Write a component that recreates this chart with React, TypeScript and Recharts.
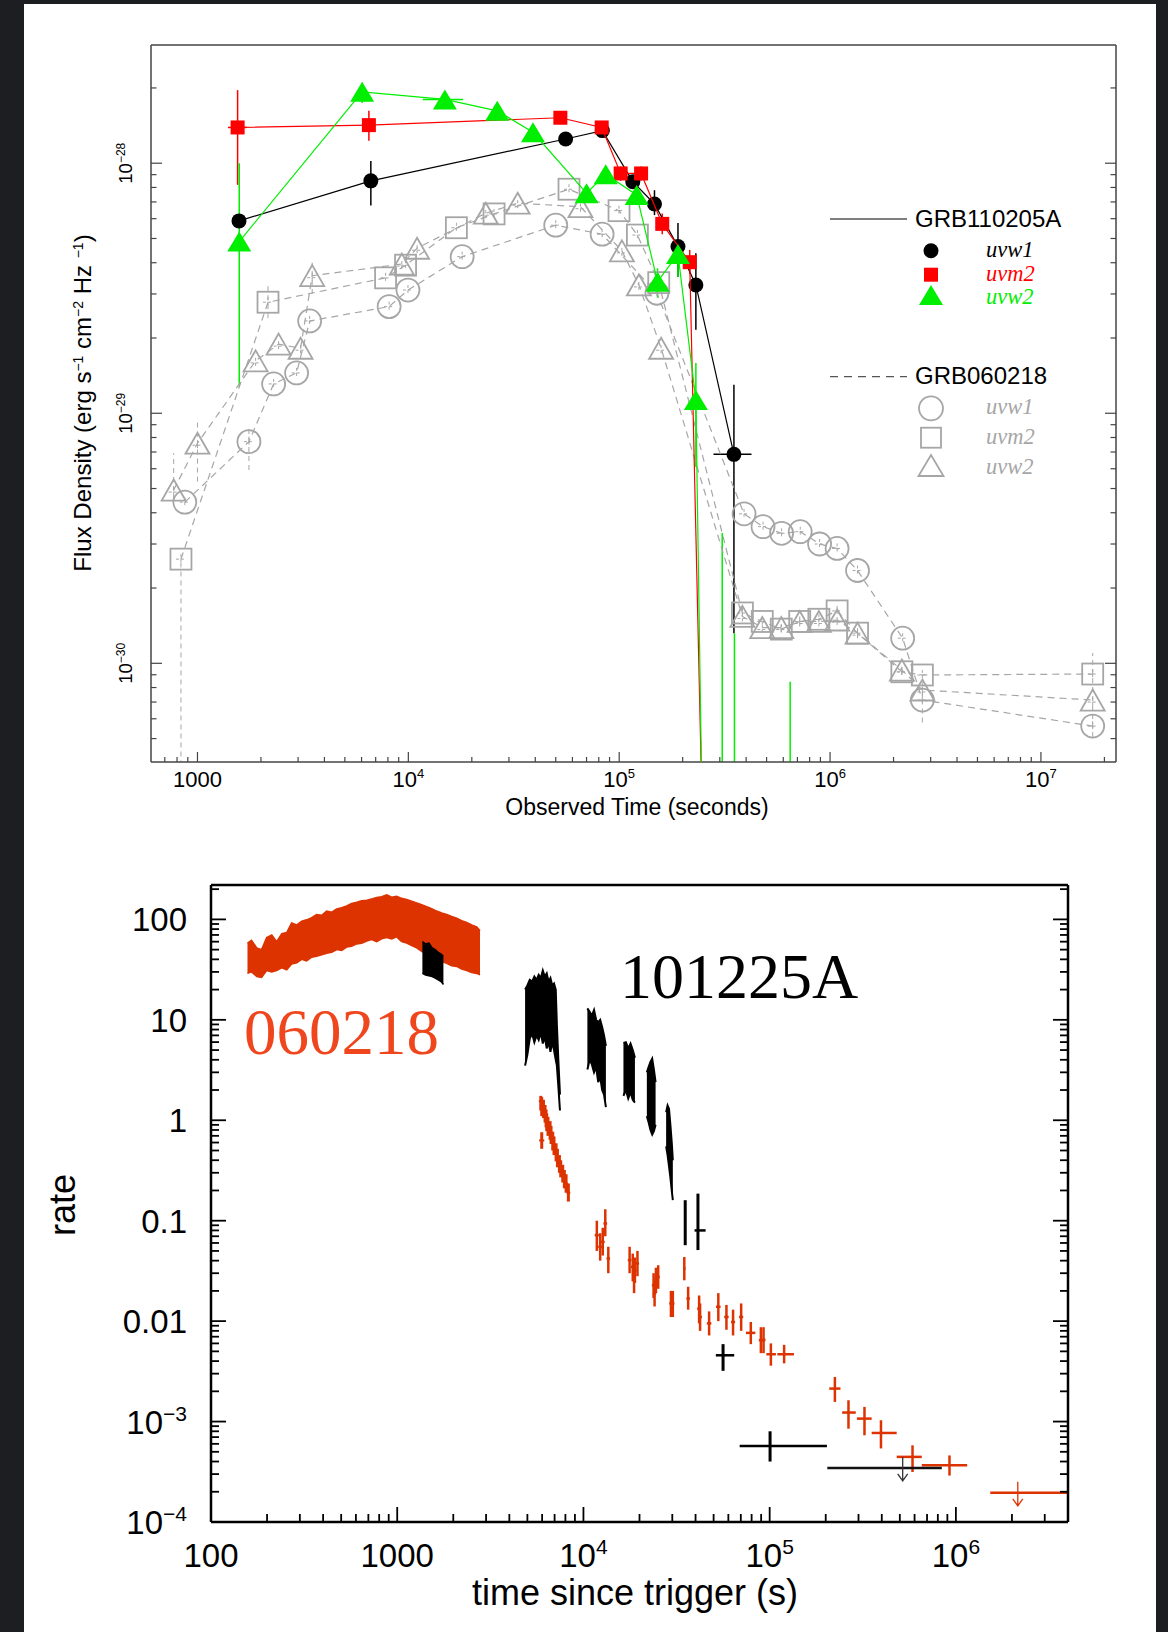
import React from "react";
import { ComposedChart, Scatter, Area, XAxis, YAxis, ReferenceLine } from "recharts";

const SANS = "'Liberation Sans', Arial, Helvetica, sans-serif";
const SERIF = "'Liberation Serif', 'Times New Roman', serif";

const FRAME = "#444444";
const GRAY = "#a6a6a6";
const UV_RED = "#ff0000";
const UV_GREEN = "#00ee00";
const XRT_RED = "#dc3300";
const NAME_RED = "#f0461e";
const ZERO = 1e-33; // error bars that run down to zero flux

// ---------- UVOT flux density (erg s^-1 cm^-2 Hz^-1) vs observed time (s) ----------

// GRB 110205A, uvw1
const a1Time = [1574, 6640, 55700, 83200, 116000, 147000, 190000, 231000, 350000];
const a1Flux = [5.88e-29, 8.5e-29, 1.25e-28, 1.35e-28, 8.44e-29, 6.87e-29, 4.64e-29, 3.26e-29, 6.85e-30];
const a1Lo = [5.6e-29, 6.77e-29, 1.19e-28, 1.3e-28, 8.0e-29, 6.2e-29, 3.51e-29, 2.16e-29, 1.32e-30];
const a1Hi = [6.2e-29, 1.02e-28, 1.32e-28, 1.41e-28, 8.9e-29, 7.8e-29, 5.77e-29, 4.36e-29, 1.3e-29];
const a1TLo = [1500, 6450, 53000, 79000, 111000, 141000, 182000, 224000, 280000];
const a1THi = [1650, 6830, 58500, 87500, 121000, 153000, 198000, 238000, 424000];

// GRB 110205A, uvm2 (last point drops out of the plotted range)
const a2Time = [1550, 6500, 52600, 82600, 101600, 127000, 160000, 216000, 270000];
const a2Flux = [1.39e-28, 1.42e-28, 1.52e-28, 1.39e-28, 9.1e-29, 9.1e-29, 5.72e-29, 4.02e-29, 1e-32];
const a2Lo = [8.19e-29, 1.23e-28, 1.44e-28, 1.33e-28, 8.5e-29, 8.5e-29, 5.2e-29, 3.6e-29, 1e-32];
const a2Hi = [1.96e-28, 1.62e-28, 1.6e-28, 1.45e-28, 9.7e-29, 9.7e-29, 6.3e-29, 4.5e-29, 1e-32];
const a2TLo = [1395, 6200, 50500, 79000, 96500, 121000, 153000, 207000, 270000];
const a2THi = [1711, 6800, 55000, 86000, 107000, 133000, 168000, 226000, 270000];

// GRB 110205A, uvw2
const a3Time = [1578, 6040, 14900, 26400, 39000, 70000, 86300, 121000, 152000, 190000, 231000, 262000];
const a3Flux = [4.86e-29, 1.93e-28, 1.8e-28, 1.62e-28, 1.33e-28, 7.59e-29, 9.03e-29, 7.47e-29, 3.36e-29, 4.33e-29, 1.13e-29, 1e-32];
const a3Lo = [1.27e-29, 1.74e-28, 1.72e-28, 1.55e-28, 1.27e-28, 7.2e-29, 8.6e-29, 7.1e-29, 2.9e-29, 3.51e-29, 6.1e-30, 1e-32];
const a3Hi = [1.0e-28, 2.1e-28, 1.88e-28, 1.7e-28, 1.4e-28, 8.0e-29, 9.5e-29, 7.9e-29, 3.8e-29, 4.93e-29, 1.59e-29, 1e-32];
const a3TLo = [1540, 5800, 11700, 25000, 37000, 67000, 83000, 116000, 146000, 184000, 226000, 262000];
const a3THi = [1620, 6300, 18200, 28000, 41000, 73000, 90000, 126000, 158000, 196000, 236000, 262000];
// faint uvw2 exposures: only the upper half of the error bar is inside the frame
const a3FaintTime = [308000, 352000, 647000];
const a3FaintHi = [3.32e-30, 1.32e-30, 8.44e-31];

// GRB 060218
const b1Time = [871, 1754, 2297, 2952, 3405, 8110, 9960, 18000, 50000, 83000, 151000, 391000, 481000, 589000, 722000, 892000, 1080000, 1350000, 2210000, 2740000, 17600000];
const b1Flux = [4.41e-30, 7.7e-30, 1.31e-29, 1.45e-29, 2.34e-29, 2.67e-29, 3.11e-29, 4.23e-29, 5.65e-29, 5.2e-29, 3.02e-29, 3.96e-30, 3.52e-30, 3.31e-30, 3.36e-30, 3.0e-30, 2.88e-30, 2.35e-30, 1.26e-30, 7.13e-31, 5.61e-31];
const b2Time = [835, 2160, 7800, 9700, 16900, 25500, 57800, 99800, 122000, 154000, 384000, 477000, 587000, 718000, 885000, 1080000, 1350000, 2190000, 2740000, 17600000];
const b2Flux = [2.61e-30, 2.78e-29, 3.48e-29, 3.91e-29, 5.52e-29, 6.27e-29, 7.87e-29, 6.46e-29, 5.16e-29, 3.33e-29, 1.59e-30, 1.47e-30, 1.37e-30, 1.47e-30, 1.5e-30, 1.62e-30, 1.32e-30, 9.25e-31, 8.98e-31, 9.06e-31];
const b3Time = [771, 1000, 1887, 2425, 3083, 3500, 9310, 11000, 23300, 33000, 65500, 103000, 124000, 158000, 384000, 477000, 587000, 718000, 885000, 1080000, 1350000, 2190000, 2740000, 17600000];
const b3Flux = [4.93e-30, 7.59e-30, 1.62e-29, 1.89e-29, 1.82e-29, 3.55e-29, 3.95e-29, 4.57e-29, 6.31e-29, 6.92e-29, 6.7e-29, 4.46e-29, 3.26e-29, 1.82e-29, 1.54e-30, 1.39e-30, 1.39e-30, 1.47e-30, 1.47e-30, 1.49e-30, 1.32e-30, 9.4e-31, 7.82e-31, 7.13e-31];
// the longer GRB 060218 error bars
const bErrTime = [771, 1000, 1754, 835, 2160, 3500, 2740000, 17600000];
const bErrLo = [4.5e-30, 5.33e-30, 5.93e-30, ZERO, 2.4e-29, 3.0e-29, 5.8e-31, 5.07e-31];
const bErrHi = [6.92e-30, 9.4e-30, 8.98e-30, 2.61e-30, 3.26e-29, 4.0e-29, 8.4e-31, 1.1e-30];

// ---------- XRT count rate vs time since trigger ----------

// 060218: the long bright WT stretch
const xBandTime = [157, 165, 176, 187, 199, 212, 225, 240, 255, 271, 289, 307, 326, 347, 369, 393, 418, 445, 473, 503, 535, 569, 606, 644, 686, 729, 776, 825, 878, 934, 993, 1056, 1124, 1196, 1272, 1353, 1440, 1531, 1629, 1733, 1843, 1961, 2086, 2219, 2361, 2511, 2671, 2784];
const xBandHi = [58, 62, 52, 50, 66, 70, 60, 72, 74, 92, 88, 96, 99, 104, 112, 110, 121, 118, 127, 131, 136, 144, 148, 153, 155, 160, 165, 168, 176, 166, 170, 162, 158, 152, 146, 140, 134, 128, 121, 116, 112, 107, 103, 97, 93, 88, 84, 77];
const xBandLo = [29, 30, 27, 26.5, 31, 30, 31, 33, 31.5, 36, 37, 40, 38.5, 42, 43, 44.5, 46, 47, 50, 49, 53, 54, 57, 58, 61, 63, 60, 64, 66, 64, 67, 60, 58, 55, 52, 48, 45, 42, 40, 38, 36.5, 34.5, 34, 32, 31, 29.5, 29, 28];

// 060218: steep decay in the second orbit
const xFastTime = [5900, 5970, 5970, 6100, 6220, 6300, 6350, 6450, 6620, 6700, 6840, 6950, 7130, 7250, 7430, 7550, 7740, 7900, 8070, 8300];
const xFastRate = [1.55, 1.4, 0.63, 1.3, 1.17, 1.05, 0.96, 0.88, 0.8, 0.72, 0.63, 0.56, 0.48, 0.42, 0.37, 0.33, 0.295, 0.26, 0.235, 0.19];
const xFastLo = [1.25, 1.1, 0.52, 1.05, 0.95, 0.85, 0.78, 0.7, 0.64, 0.58, 0.5, 0.45, 0.39, 0.34, 0.3, 0.27, 0.24, 0.21, 0.19, 0.155];
const xFastHi = [1.75, 1.7, 0.76, 1.6, 1.42, 1.28, 1.17, 1.08, 0.98, 0.88, 0.77, 0.69, 0.59, 0.52, 0.45, 0.4, 0.36, 0.32, 0.29, 0.235];
const xFastTLo = [5760, 5830, 5780, 5960, 6080, 6150, 6200, 6300, 6470, 6540, 6680, 6790, 6960, 7080, 7260, 7370, 7560, 7720, 7880, 8110];
const xFastTHi = [6040, 6110, 6160, 6240, 6370, 6450, 6500, 6600, 6780, 6860, 7000, 7120, 7300, 7420, 7610, 7730, 7930, 8090, 8260, 8500];

// 060218: late PC-mode points
const xSlowTime = [11800, 12300, 12700, 13100, 13600, 17700, 18400, 18900, 19500, 18700, 23800, 24500, 25200, 24100, 29500, 30200, 34800, 36500, 41800, 42300, 47300, 53000, 58600, 63600, 70300, 79200, 89700, 92700, 101500, 119600, 224000, 265000, 323000, 396000, 585000, 924000];
const xSlowRate = [0.0718, 0.0548, 0.0615, 0.0938, 0.042, 0.0405, 0.0347, 0.0321, 0.0375, 0.0255, 0.0228, 0.0255, 0.0275, 0.0188, 0.015, 0.015, 0.0334, 0.0168, 0.0133, 0.011, 0.0095, 0.0139, 0.011, 0.0098, 0.011, 0.00764, 0.00646, 0.0065, 0.00468, 0.00468, 0.00213, 0.00123, 0.00107, 7.7e-4, 4.45e-4, 3.67e-4];
const xSlowLo = [0.05, 0.04, 0.045, 0.07, 0.03, 0.03, 0.025, 0.024, 0.028, 0.019, 0.017, 0.019, 0.021, 0.014, 0.011, 0.011, 0.0255, 0.013, 0.0095, 0.008, 0.0072, 0.01, 0.0082, 0.0072, 0.008, 0.0059, 0.0048, 0.0048, 0.0036, 0.0038, 0.00157, 8.5e-4, 7.3e-4, 5.4e-4, 3.15e-4, 2.9e-4];
const xSlowHi = [0.1, 0.075, 0.085, 0.13, 0.055, 0.055, 0.047, 0.043, 0.05, 0.034, 0.03, 0.034, 0.036, 0.025, 0.02, 0.02, 0.0435, 0.022, 0.018, 0.015, 0.0125, 0.019, 0.0145, 0.013, 0.015, 0.0098, 0.0087, 0.0087, 0.006, 0.0058, 0.00278, 0.00163, 0.0014, 0.00103, 5.8e-4, 4.6e-4];
const xSlowTLo = [11500, 12000, 12400, 12800, 13300, 17300, 18000, 18500, 19100, 18300, 23300, 24000, 24700, 23600, 28900, 29600, 34300, 35700, 40800, 41300, 46000, 51500, 57000, 62000, 68500, 74600, 87500, 90500, 96000, 110000, 209000, 245000, 294000, 353000, 481000, 656000];
const xSlowTHi = [12100, 12600, 13000, 13400, 13900, 18100, 18800, 19300, 19900, 19100, 24300, 25000, 25700, 24600, 30100, 30800, 35300, 37300, 42800, 43300, 48600, 54500, 60200, 65200, 72100, 83800, 92000, 95000, 108000, 135000, 240000, 290000, 353000, 481000, 656000, 1150000];

// 101225A: WT / PC snapshots
const yEarlyTime = [1365, 1420, 1480, 1540, 1600, 1660, 1720, 1770];
const yEarlyHi = [60, 57, 58, 52, 50, 47, 45, 43];
const yEarlyLo = [29, 28, 27.5, 27, 26, 25, 24, 22.5];
const yOrb1Time = [4860, 5000, 5150, 5300, 5450, 5600, 5750, 5900, 6050, 6200, 6350, 6500, 6650, 6800, 6950, 7100, 7200, 7330, 7480];
const yOrb1Hi = [20, 22, 25, 24, 27, 25, 28, 26, 31, 27, 29, 24, 26, 22, 23, 20, 9, 4, 1.8];
const yOrb1Lo = [3.5, 4.5, 6.5, 7.3, 6.0, 7.0, 6.3, 7.5, 5.8, 6.8, 5.2, 6.0, 4.8, 6.0, 5.0, 4.0, 3.5, 2.2, 1.25];
const yOrb2Time = [10500, 10800, 11100, 11400, 11700, 12000, 12300, 12600, 12900, 13200];
const yOrb2Hi = [13, 12, 11, 12.5, 10, 9.5, 10, 8.5, 7, 5.5];
const yOrb2Lo = [3.2, 4.0, 3.6, 3.0, 3.4, 2.4, 2.7, 2.0, 1.8, 1.35];
const yOrb3Time = [16400, 16900, 17400, 17900, 18400, 18900];
const yOrb3Hi = [5.9, 6.0, 5.2, 5.8, 5.0, 4.2];
const yOrb3Lo = [1.75, 2.0, 1.65, 1.9, 1.6, 1.5];
const yOrb4Time = [21900, 22400, 22900, 23400, 23900, 24400];
const yOrb4Hi = [3.0, 3.4, 3.8, 4.1, 3.2, 2.4];
const yOrb4Lo = [1.1, 0.95, 0.8, 0.72, 0.78, 0.9];
const yOrb5Time = [27800, 28300, 28800, 29300, 29800, 30200];
const yOrb5Hi = [1.2, 1.4, 1.3, 0.9, 0.6, 0.4];
const yOrb5Lo = [0.55, 0.45, 0.35, 0.27, 0.2, 0.16];
const yPtTime = [35200, 41200, 56200, 100500];
const yPtRate = [0.095, 0.08, 0.00457, 5.7e-4];
const yPtLo = [0.057, 0.051, 0.0032, 4.0e-4];
const yPtHi = [0.16, 0.186, 0.0059, 8.0e-4];
const yPtTLo = [35200, 39500, 51400, 69000];
const yPtTHi = [35200, 45300, 64500, 203000];

// upper limits: 101225A, then 060218
const ulTime = [518000, 2150000];
const ulRate = [3.45e-4, 1.95e-4];
const ulTLo = [204000, 1530000];
const ulTHi = [840000, 4000000];

// ---------- axes ----------
const TOP_X: [number, number] = [602, 2.27e7];
const TOP_Y: [number, number] = [4.03e-31, 2.97e-28];
const BOT_X: [number, number] = [100, 4e6];
const BOT_Y: [number, number] = [1e-4, 220];

const logTicks = (lo: number, hi: number) => {
  const out: number[] = [];
  for (let e = Math.floor(Math.log10(lo)); e <= Math.ceil(Math.log10(hi)); e++) {
    for (let m = 1; m <= 9; m++) {
      const v = m * Math.pow(10, e);
      if (v >= lo * 0.9999 && v <= hi * 1.0001) out.push(v);
    }
  }
  return out;
};
const isDecade = (v: number) => Math.abs(Math.log10(v) - Math.round(Math.log10(v))) < 1e-6;
const expOf = (v: number) => Math.round(Math.log10(v));

const topXTicks = logTicks(TOP_X[0], TOP_X[1]);
const topYTicks = logTicks(TOP_Y[0], TOP_Y[1]);
const botXTicks = logTicks(BOT_X[0], BOT_X[1]);
const botYTicks = logTicks(BOT_Y[0], BOT_Y[1]);

const pts = (t: number[], v: number[]) => t.map((x, i) => ({ t: x, v: v[i] }));
const band = (t: number[], lo: number[], hi: number[]) => t.map((x, i) => ({ t: x, range: [lo[i], hi[i]] }));

const vBars = (id: string, t: number[], lo: number[], hi: number[], stroke: string, w: number, dash?: string) =>
  t.map((x, i) =>
    lo[i] === hi[i] ? null : (
      <ReferenceLine key={`${id}v${i}`} segment={[{ x, y: lo[i] }, { x, y: hi[i] }]} stroke={stroke} strokeWidth={w} strokeDasharray={dash} ifOverflow="hidden" />
    )
  );
const hBars = (id: string, v: number[], lo: number[], hi: number[], stroke: string, w: number) =>
  v.map((y, i) =>
    lo[i] === hi[i] ? null : (
      <ReferenceLine key={`${id}h${i}`} segment={[{ x: lo[i], y }, { x: hi[i], y }]} stroke={stroke} strokeWidth={w} ifOverflow="hidden" />
    )
  );

// ---------- markers ----------
const triPath = (cx: number, cy: number, w: number, h: number) =>
  `M${cx},${cy - h / 2}L${cx + w / 2},${cy + h / 2}L${cx - w / 2},${cy + h / 2}Z`;
const crossPath = (cx: number, cy: number, s: number) => `M${cx - s},${cy}h${2 * s}M${cx},${cy - s}v${2 * s}`;

const blackDot = (p: any) => <circle cx={p.cx} cy={p.cy} r={7.5} fill="#000" />;
const redSquare = (p: any) => <rect x={p.cx - 7} y={p.cy - 7} width={14} height={14} fill={UV_RED} />;
const greenTri = (p: any) => <path d={triPath(p.cx, p.cy, 24, 20)} fill={UV_GREEN} />;
const openCircle = (p: any) => (
  <g>
    <circle cx={p.cx} cy={p.cy} r={11.5} fill="none" stroke={GRAY} strokeWidth={1.8} />
    <path d={crossPath(p.cx, p.cy, 5)} stroke={GRAY} strokeWidth={1} strokeDasharray="3 2" />
  </g>
);
const openSquare = (p: any) => (
  <g>
    <rect x={p.cx - 10.5} y={p.cy - 10.5} width={21} height={21} fill="none" stroke={GRAY} strokeWidth={1.8} />
    <path d={crossPath(p.cx, p.cy, 5)} stroke={GRAY} strokeWidth={1} strokeDasharray="3 2" />
  </g>
);
const openTri = (p: any) => (
  <g>
    <path d={triPath(p.cx, p.cy, 24, 21)} fill="none" stroke={GRAY} strokeWidth={1.8} />
    <path d={crossPath(p.cx, p.cy + 2, 5)} stroke={GRAY} strokeWidth={1} strokeDasharray="3 2" />
  </g>
);
const limitArrow = (color: string, w: number) => (p: any) => (
  <path
    d={`M${p.cx},${p.cy - 11}V${p.cy + 13}M${p.cx - 5},${p.cy + 6}L${p.cx},${p.cy + 13}L${p.cx + 5},${p.cy + 6}`}
    stroke={color}
    strokeWidth={w}
    fill="none"
  />
);

// ---------- tick renderers (ticks point into the frame) ----------
const topBottomTick = (p: any) => {
  const { x, y, payload } = p;
  const v = payload.value as number;
  const major = isDecade(v);
  const e = expOf(v);
  return (
    <g>
      <line x1={x} x2={x} y1={y} y2={y - (major ? 10 : 5)} stroke={FRAME} strokeWidth={1.2} />
      {major && (
        <text x={x} y={y + 25} textAnchor="middle" fontFamily={SANS} fontSize={22} fill="#000">
          {e === 3 ? "1000" : (
            <>
              10<tspan dy={-9} fontSize={13}>{e}</tspan>
            </>
          )}
        </text>
      )}
    </g>
  );
};
const topTopTick = (p: any) => {
  const major = isDecade(p.payload.value);
  return <line x1={p.x} x2={p.x} y1={p.y} y2={p.y + (major ? 10 : 5)} stroke={FRAME} strokeWidth={1.2} />;
};
const topLeftTick = (p: any) => {
  const { x, y, payload } = p;
  const v = payload.value as number;
  const major = isDecade(v);
  return (
    <g>
      <line x1={x} x2={x + (major ? 11 : 5.5)} y1={y} y2={y} stroke={FRAME} strokeWidth={1.2} />
      {major && (
        <text transform={`translate(${x - 19},${y}) rotate(-90)`} textAnchor="middle" fontFamily={SANS} fontSize={18.5} fill="#000">
          10<tspan dy={-7} fontSize={12}>{"\u2212" + -expOf(v)}</tspan>
        </text>
      )}
    </g>
  );
};
const topRightTick = (p: any) => {
  const major = isDecade(p.payload.value);
  return <line x1={p.x} x2={p.x - (major ? 11 : 5.5)} y1={p.y} y2={p.y} stroke={FRAME} strokeWidth={1.2} />;
};

const botBottomTick = (p: any) => {
  const { x, y, payload } = p;
  const v = payload.value as number;
  const major = isDecade(v);
  const e = expOf(v);
  return (
    <g>
      <line x1={x} x2={x} y1={y} y2={y - (major ? 15 : 8)} stroke="#000" strokeWidth={1.8} />
      {major && (
        <text x={x} y={y + 45} textAnchor="middle" fontFamily={SANS} fontSize={33} fill="#000">
          {e <= 3 ? String(Math.round(v)) : (
            <>
              10<tspan dy={-13} fontSize={21}>{e}</tspan>
            </>
          )}
        </text>
      )}
    </g>
  );
};
const botTopTick = (p: any) => {
  const major = isDecade(p.payload.value);
  return <line x1={p.x} x2={p.x} y1={p.y} y2={p.y + (major ? 15 : 8)} stroke="#000" strokeWidth={1.8} />;
};
const rateText = (v: number) => {
  const e = expOf(v);
  if (e >= 0) return String(Math.round(v));
  if (e >= -2) return e === -1 ? "0.1" : "0.01";
  return null;
};
const botLeftTick = (p: any) => {
  const { x, y, payload } = p;
  const v = payload.value as number;
  const major = isDecade(v);
  const plain = rateText(v);
  return (
    <g>
      <line x1={x} x2={x + (major ? 15 : 8)} y1={y} y2={y} stroke="#000" strokeWidth={1.8} />
      {major && (
        <text x={x - 24} y={y + 12} textAnchor="end" fontFamily={SANS} fontSize={33} fill="#000">
          {plain ?? (
            <>
              10<tspan dy={-13} fontSize={21}>{"\u2212" + -expOf(v)}</tspan>
            </>
          )}
        </text>
      )}
    </g>
  );
};
const botRightTick = (p: any) => {
  const major = isDecade(p.payload.value);
  return <line x1={p.x} x2={p.x - (major ? 15 : 8)} y1={p.y} y2={p.y} stroke="#000" strokeWidth={1.8} />;
};

const logAxis = { type: "number" as const, scale: "log" as const, allowDataOverflow: true, interval: 0, tickSize: 0, tickMargin: 0, tickLine: false };

const UvotPanel = () => (
  <ComposedChart width={1168} height={850} margin={{ top: 45, right: 52, bottom: 48, left: 91 }}>
    <XAxis {...logAxis} dataKey="t" domain={TOP_X} ticks={topXTicks} height={40} axisLine={{ stroke: FRAME, strokeWidth: 1.5 }} tick={topBottomTick} />
    <XAxis {...logAxis} xAxisId="top" orientation="top" mirror domain={TOP_X} ticks={topXTicks} height={1} axisLine={{ stroke: FRAME, strokeWidth: 1.5 }} tick={topTopTick} />
    <YAxis {...logAxis} dataKey="v" domain={TOP_Y} ticks={topYTicks} width={60} axisLine={{ stroke: FRAME, strokeWidth: 1.5 }} tick={topLeftTick} />
    <YAxis {...logAxis} yAxisId="right" orientation="right" mirror domain={TOP_Y} ticks={topYTicks} width={1} axisLine={{ stroke: FRAME, strokeWidth: 1.5 }} tick={topRightTick} />

    {vBars("be", bErrTime, bErrLo, bErrHi, GRAY, 1, "5 4")}
    <Scatter data={pts(b1Time, b1Flux)} dataKey="v" shape={openCircle} line={{ stroke: GRAY, strokeWidth: 1.2, strokeDasharray: "7 5" }} lineJointType="linear" isAnimationActive={false} />
    <Scatter data={pts(b2Time, b2Flux)} dataKey="v" shape={openSquare} line={{ stroke: GRAY, strokeWidth: 1.2, strokeDasharray: "7 5" }} lineJointType="linear" isAnimationActive={false} />
    <Scatter data={pts(b3Time, b3Flux)} dataKey="v" shape={openTri} line={{ stroke: GRAY, strokeWidth: 1.2, strokeDasharray: "7 5" }} lineJointType="linear" isAnimationActive={false} />

    {vBars("a1", a1Time, a1Lo, a1Hi, "#000", 1.5)}
    {hBars("a1", a1Flux, a1TLo, a1THi, "#000", 1.5)}
    {vBars("a2", a2Time, a2Lo, a2Hi, UV_RED, 1.5)}
    {hBars("a2", a2Flux, a2TLo, a2THi, UV_RED, 1.5)}
    {vBars("a3", a3Time, a3Lo, a3Hi, UV_GREEN, 1.5)}
    {hBars("a3", a3Flux, a3TLo, a3THi, UV_GREEN, 1.5)}
    {vBars("a3f", a3FaintTime, a3FaintTime.map(() => ZERO), a3FaintHi, UV_GREEN, 1.5)}

    <Scatter data={pts(a1Time, a1Flux)} dataKey="v" shape={blackDot} line={{ stroke: "#000", strokeWidth: 1.2 }} lineJointType="linear" isAnimationActive={false} />
    <Scatter data={pts(a2Time, a2Flux)} dataKey="v" shape={redSquare} line={{ stroke: UV_RED, strokeWidth: 1.2 }} lineJointType="linear" isAnimationActive={false} />
    <Scatter data={pts(a3Time, a3Flux)} dataKey="v" shape={greenTri} line={{ stroke: UV_GREEN, strokeWidth: 1.2 }} lineJointType="linear" isAnimationActive={false} />
  </ComposedChart>
);

const XrtPanel = () => (
  <ComposedChart width={1168} height={782} margin={{ top: 35, right: 100, bottom: 50, left: 111 }}>
    <XAxis {...logAxis} dataKey="t" domain={BOT_X} ticks={botXTicks} height={60} axisLine={{ stroke: "#000", strokeWidth: 2.5 }} tick={botBottomTick} />
    <XAxis {...logAxis} xAxisId="top" orientation="top" mirror domain={BOT_X} ticks={botXTicks} height={1} axisLine={{ stroke: "#000", strokeWidth: 2.5 }} tick={botTopTick} />
    <YAxis {...logAxis} dataKey="v" domain={BOT_Y} ticks={botYTicks} width={100} axisLine={{ stroke: "#000", strokeWidth: 2.5 }} tick={botLeftTick} />
    <YAxis {...logAxis} yAxisId="right" orientation="right" mirror domain={BOT_Y} ticks={botYTicks} width={1} axisLine={{ stroke: "#000", strokeWidth: 2.5 }} tick={botRightTick} />

    <Area data={band(xBandTime, xBandLo, xBandHi)} dataKey="range" type="linear" stroke={XRT_RED} strokeWidth={1.5} fill={XRT_RED} fillOpacity={1} dot={false} activeDot={false} isAnimationActive={false} />
    {vBars("xf", xFastTime, xFastLo, xFastHi, XRT_RED, 3)}
    {hBars("xf", xFastRate, xFastTLo, xFastTHi, XRT_RED, 2)}
    {vBars("xs", xSlowTime, xSlowLo, xSlowHi, XRT_RED, 2.5)}
    {hBars("xs", xSlowRate, xSlowTLo, xSlowTHi, XRT_RED, 2.5)}

    <Area data={band(yEarlyTime, yEarlyLo, yEarlyHi)} dataKey="range" type="linear" stroke="#000" strokeWidth={1.5} fill="#000" fillOpacity={1} dot={false} activeDot={false} isAnimationActive={false} />
    <Area data={band(yOrb1Time, yOrb1Lo, yOrb1Hi)} dataKey="range" type="linear" stroke="#000" strokeWidth={2} fill="#000" fillOpacity={1} dot={false} activeDot={false} isAnimationActive={false} />
    <Area data={band(yOrb2Time, yOrb2Lo, yOrb2Hi)} dataKey="range" type="linear" stroke="#000" strokeWidth={2} fill="#000" fillOpacity={1} dot={false} activeDot={false} isAnimationActive={false} />
    <Area data={band(yOrb3Time, yOrb3Lo, yOrb3Hi)} dataKey="range" type="linear" stroke="#000" strokeWidth={2} fill="#000" fillOpacity={1} dot={false} activeDot={false} isAnimationActive={false} />
    <Area data={band(yOrb4Time, yOrb4Lo, yOrb4Hi)} dataKey="range" type="linear" stroke="#000" strokeWidth={2} fill="#000" fillOpacity={1} dot={false} activeDot={false} isAnimationActive={false} />
    <Area data={band(yOrb5Time, yOrb5Lo, yOrb5Hi)} dataKey="range" type="linear" stroke="#000" strokeWidth={2} fill="#000" fillOpacity={1} dot={false} activeDot={false} isAnimationActive={false} />
    {vBars("yp", yPtTime, yPtLo, yPtHi, "#000", 3)}
    {hBars("yp", yPtRate, yPtTLo, yPtTHi, "#000", 2.5)}

    {hBars("ul0", [ulRate[0]], [ulTLo[0]], [ulTHi[0]], "#111", 2.5)}
    {hBars("ul1", [ulRate[1]], [ulTLo[1]], [ulTHi[1]], XRT_RED, 2.5)}
    <Scatter data={pts([ulTime[0]], [ulRate[0]])} dataKey="v" shape={limitArrow("#333", 1.3)} isAnimationActive={false} />
    <Scatter data={pts([ulTime[1]], [ulRate[1]])} dataKey="v" shape={limitArrow(XRT_RED, 1.3)} isAnimationActive={false} />
  </ComposedChart>
);

const legendItalic = { fontFamily: SERIF, fontStyle: "italic" as const, fontSize: 22.5 };

const Annotations = () => (
  <svg width={1168} height={1632} style={{ position: "absolute", left: 0, top: 0, pointerEvents: "none" }}>
    {/* upper panel titles */}
    <text transform="translate(91,403) rotate(-90)" textAnchor="middle" fontFamily={SANS} fontSize={24} fill="#000">
      Flux Density (erg s<tspan dy={-8} fontSize={14}>{"\u22121"}</tspan>
      <tspan dy={8}> cm</tspan>
      <tspan dy={-8} fontSize={14}>{"\u22122"}</tspan>
      <tspan dy={8}>{"  Hz "}</tspan>
      <tspan dy={-8} fontSize={14}>{"\u22121"}</tspan>
      <tspan dy={8}>)</tspan>
    </text>
    <text x={637} y={815} textAnchor="middle" fontFamily={SANS} fontSize={23} fill="#000">
      Observed Time (seconds)
    </text>

    {/* upper panel legend */}
    <line x1={830} x2={907} y1={219} y2={219} stroke="#000" strokeWidth={1.2} />
    <text x={915} y={227} fontFamily={SANS} fontSize={24} fill="#000">GRB110205A</text>
    {blackDot({ cx: 931, cy: 250.7 })}
    <text x={986} y={257} {...legendItalic} fill="#000">uvw1</text>
    {redSquare({ cx: 931, cy: 274.7 })}
    <text x={986} y={281} {...legendItalic} fill={UV_RED}>uvm2</text>
    {greenTri({ cx: 931, cy: 295 })}
    <text x={986} y={303.5} {...legendItalic} fill={UV_GREEN}>uvw2</text>

    <line x1={830} x2={907} y1={376.7} y2={376.7} stroke="#555" strokeWidth={1.2} strokeDasharray="8 6" />
    <text x={915} y={383.5} fontFamily={SANS} fontSize={24} fill="#000">GRB060218</text>
    <circle cx={931} cy={408.3} r={12} fill="none" stroke={GRAY} strokeWidth={1.8} />
    <text x={986} y={414} {...legendItalic} fill={GRAY}>uvw1</text>
    <rect x={921} y={427.7} width={20} height={20} fill="none" stroke={GRAY} strokeWidth={1.8} />
    <text x={986} y={444} {...legendItalic} fill={GRAY}>uvm2</text>
    <path d={triPath(931, 465.5, 25, 21)} fill="none" stroke={GRAY} strokeWidth={1.8} />
    <text x={986} y={474} {...legendItalic} fill={GRAY}>uvw2</text>

    {/* lower panel titles and burst names */}
    <text transform="translate(75,1205) rotate(-90)" textAnchor="middle" fontFamily={SANS} fontSize={36} fill="#000">rate</text>
    <text x={635} y={1605} textAnchor="middle" fontFamily={SANS} fontSize={36} fill="#000">time since trigger (s)</text>
    <text x={244} y={1054} fontFamily={SERIF} fontSize={65} fill={NAME_RED}>060218</text>
    <text x={620} y={998} fontFamily={SERIF} fontSize={64} fill="#000">101225A</text>
  </svg>
);

export default function App() {
  return (
    <div style={{ position: "absolute", left: 0, top: 0, width: 1168, height: 1632, background: "#1d1e22", overflow: "hidden" }}>
      <div style={{ position: "absolute", left: 24, top: 4, width: 1132, height: 1628, background: "#ffffff" }} />
      <div style={{ position: "absolute", left: 0, top: 0 }}>
        <UvotPanel />
      </div>
      <div style={{ position: "absolute", left: 0, top: 850 }}>
        <XrtPanel />
      </div>
      <Annotations />
    </div>
  );
}
